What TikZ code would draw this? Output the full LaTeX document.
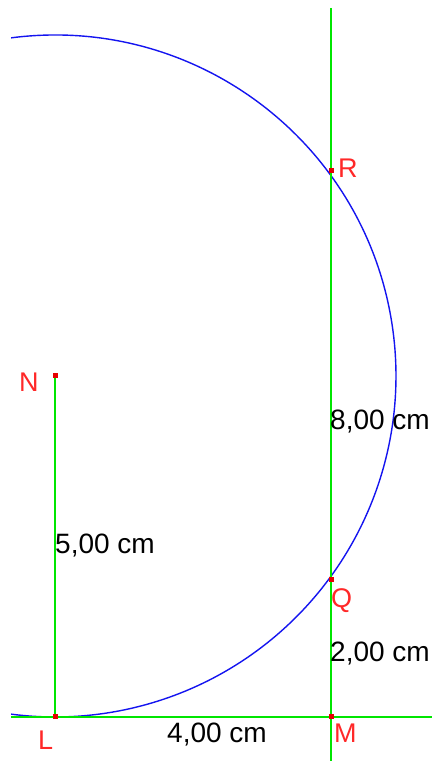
\documentclass[tikz,border=0pt]{standalone}
\usepackage{fontspec}
\setmainfont{Liberation Sans}
\begin{document}
\begin{tikzpicture}[x=1pt,y=1pt,
  gline/.style={draw={rgb,255:red,0;green,230;blue,0}, line width=1.5pt},
  bline/.style={draw={rgb,255:red,20;green,20;blue,240}, line width=1.4pt},
  ptdot/.style={fill={rgb,255:red,230;green,0;blue,0}, minimum size=5pt, inner sep=0pt, draw=none, rectangle},
  ptlab/.style={text={rgb,255:red,255;green,40;blue,40}, font=\fontsize{27}{27}\selectfont, inner sep=0pt, anchor=base west},
  mlab/.style={text=black, font=\fontsize{28}{28}\selectfont, inner sep=0pt, anchor=base west}]
\useasboundingbox[fill=white] (0,0) rectangle (432,761);
% points
\coordinate (N) at (55,385);
\coordinate (L) at (55,44);
\coordinate (M) at (331,44);
\coordinate (Q) at (331,181);
\coordinate (R) at (331,590);
\coordinate (vtop) at (331,753);
\coordinate (vbot) at (331,0);
\coordinate (hl) at (11,44);
\coordinate (hr) at (432,44);
% circle arc centered at N
\draw[bline] (N) ++(97.4:341) arc[start angle=97.4, end angle=-97.4, radius=341];
% green lines
\draw[gline] (vtop) -- (vbot);
\draw[gline] (hl) -- (hr);
\draw[gline] (N) -- (L);
% measure labels
\node[mlab] (lNL) at (55,207) {5,00 cm};
\node[mlab] (lQR) at (330,331) {8,00 cm};
\node[mlab] (lQM) at (330,99) {2,00 cm};
\node[mlab] (lLM) at (167,18) {4,00 cm};
% point dots
\node[ptdot] (dN) at (N) {};
\node[ptdot] (dL) at (L) {};
\node[ptdot] (dM) at (M) {};
\node[ptdot] (dQ) at (Q) {};
\node[ptdot] (dR) at (R) {};
% point labels
\node[ptlab] (tN) at (19,369) {N};
\node[ptlab] (tL) at (38,12) {L};
\node[ptlab] (tM) at (334,18) {M};
\node[ptlab] (tQ) at (331,153) {Q};
\node[ptlab] (tR) at (338,583) {R};
\end{tikzpicture}
\end{document}
